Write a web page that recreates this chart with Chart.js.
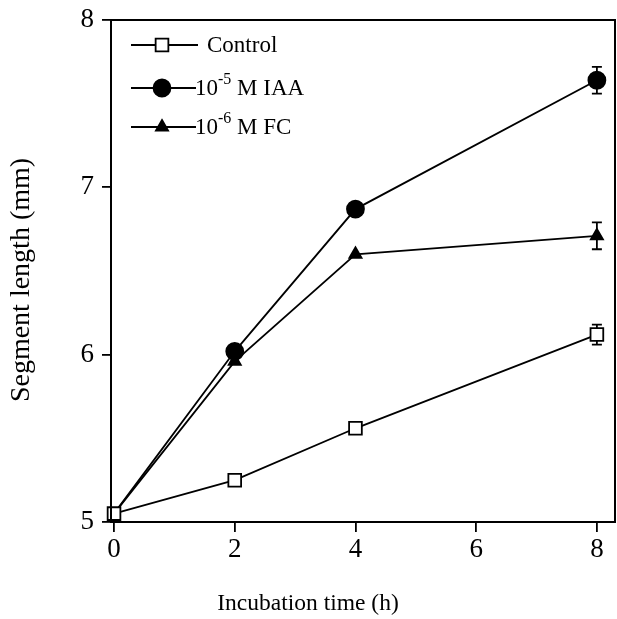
<!DOCTYPE html>
<html lang="en">
<head>
  <meta charset="UTF-8">
  <title>Segment length vs incubation time</title>
  <script src="https://cdn.jsdelivr.net/npm/chart.js"></script>
  <style>
    html, body { margin: 0; padding: 0; background: #fff; }
    #wrap { width: 617px; height: 619px; }
  </style>
</head>
<body>
  <div id="wrap"><canvas id="chart" width="617" height="619"></canvas></div>
  <script>
    // values
    const hours = [0, 2, 4, 8];
    const control = [5.05, 5.25, 5.56, 6.12];
    const iaa = [5.05, 6.02, 6.87, 7.64];
    const fc = [5.05, 5.96, 6.60, 6.71];
    const controlErr = [0, 0, 0, 0.06];
    const iaaErr = [0, 0, 0, 0.08];
    const fcErr = [0, 0, 0, 0.08];
    const xTicks = [0, 2, 4, 6, 8];
    const yTicks = [5, 6, 7, 8];

    const serif = "'Liberation Serif', 'DejaVu Serif', serif";

    function pts(ys) {
      return hours.map((x, i) => ({ x: x, y: ys[i] }));
    }

    // the shared starting point only shows the control square
    const series = [
      { label: "Control", sup: null, rest: null, data: control, err: controlErr, style: "rect", radius: 9, fill: "#fff", hideFirst: false },
      { label: "10", sup: "-5", rest: " M IAA", data: iaa, err: iaaErr, style: "circle", radius: 8.5, fill: "#000", hideFirst: true },
      { label: "10", sup: "-6", rest: " M FC", data: fc, err: fcErr, style: "triangle", radius: 7, fill: "#000", hideFirst: true }
    ];

    // error bars, frame, axis titles and legend
    const extras = {
      id: "extras",
      beforeDatasetsDraw(chart) {
        const ctx = chart.ctx;
        const xs = chart.scales.x, ys = chart.scales.y;
        ctx.save();
        ctx.strokeStyle = "#000";
        ctx.lineWidth = 1.8;
        series.forEach(s => {
          s.data.forEach((v, i) => {
            const e = s.err[i];
            if (!e) return;
            const px = xs.getPixelForValue(hours[i]);
            const top = ys.getPixelForValue(v + e);
            const bot = ys.getPixelForValue(v - e);
            ctx.beginPath();
            ctx.moveTo(px, top); ctx.lineTo(px, bot);
            ctx.moveTo(px - 5, top); ctx.lineTo(px + 5, top);
            ctx.moveTo(px - 5, bot); ctx.lineTo(px + 5, bot);
            ctx.stroke();
          });
        });
        ctx.restore();
      },
      afterDraw(chart) {
        const ctx = chart.ctx;
        const a = chart.chartArea;
        ctx.save();
        ctx.strokeStyle = "#000";
        ctx.lineWidth = 2;
        ctx.strokeRect(a.left, a.top, a.right - a.left, a.bottom - a.top);

        // axis titles
        ctx.fillStyle = "#000";
        ctx.textAlign = "center";
        ctx.textBaseline = "middle";
        ctx.font = "23.5px " + serif;
        ctx.fillText("Incubation time (h)", 308, 604);
        ctx.save();
        ctx.translate(22, 280);
        ctx.rotate(-Math.PI / 2);
        ctx.font = "28px " + serif;
        ctx.fillText("Segment length (mm)", 0, 0);
        ctx.restore();

        const rows = [45, 88, 127];
        series.forEach((s, k) => {
          const y = rows[k];
          ctx.beginPath();
          ctx.lineWidth = 1.8;
          ctx.strokeStyle = "#000";
          ctx.moveTo(131, y);
          ctx.lineTo(k === 0 ? 198 : 196, y);
          ctx.stroke();
          ctx.fillStyle = s.fill;
          Chart.helpers.drawPoint(ctx, { pointStyle: s.style, radius: s.radius, borderWidth: 1.8 }, 162, y);
          ctx.fillStyle = "#000";
          ctx.textBaseline = "middle";
          ctx.textAlign = "left";
          ctx.font = "23px " + serif;
          let tx = k === 0 ? 207 : 195;
          ctx.fillText(s.label, tx, y + 1);
          if (s.sup) {
            tx += ctx.measureText(s.label).width;
            ctx.font = "16px " + serif;
            ctx.fillText(s.sup, tx, y - 8);
            tx += ctx.measureText(s.sup).width;
            ctx.font = "23px " + serif;
            ctx.fillText(s.rest, tx, y + 1);
          }
        });
        ctx.restore();
      }
    };

    new Chart(document.getElementById("chart"), {
      type: "line",
      data: {
        datasets: series.map(s => ({
          label: s.label,
          data: pts(s.data),
          borderColor: "#000",
          borderWidth: 1.8,
          backgroundColor: s.fill,
          pointStyle: s.style,
          pointRadius: hours.map((_, i) => (s.hideFirst && i === 0) ? 0 : s.radius),
          pointBorderWidth: 1.8,
          pointBorderColor: "#000",
          pointBackgroundColor: s.fill,
          tension: 0,
          clip: false
        }))
      },
      options: {
        responsive: false,
        animation: false,
        layout: { autoPadding: false, padding: { top: 20, right: 2, left: 0, bottom: 0 } },
        plugins: { legend: { display: false }, tooltip: { enabled: false } },
        scales: {
          x: {
            type: "linear",
            min: -0.05,
            max: 8.3,
            afterBuildTicks: sc => { sc.ticks = xTicks.map(v => ({ value: v })); },
            afterFit: sc => { sc.height = 97; sc.paddingRight = 0; sc.paddingLeft = 0; },
            grid: { display: true, drawOnChartArea: false, drawTicks: true, tickLength: 10, color: "#000", lineWidth: 1.8 },
            border: { display: true, color: "#000", width: 2 },
            ticks: { color: "#000", font: { family: serif, size: 27 }, padding: 2, maxRotation: 0 },
            title: { display: false }
          },
          y: {
            min: 5,
            max: 8,
            afterBuildTicks: sc => { sc.ticks = yTicks.map(v => ({ value: v })); },
            afterFit: sc => { sc.width = 111; sc.paddingTop = 0; sc.paddingBottom = 0; },
            grid: { display: true, drawOnChartArea: false, drawTicks: true, tickLength: 9, color: "#000", lineWidth: 1.8 },
            border: { display: true, color: "#000", width: 2 },
            ticks: { color: "#000", font: { family: serif, size: 27 }, padding: 8 },
            title: { display: false }
          }
        }
      },
      plugins: [extras]
    });
  </script>
</body>
</html>
